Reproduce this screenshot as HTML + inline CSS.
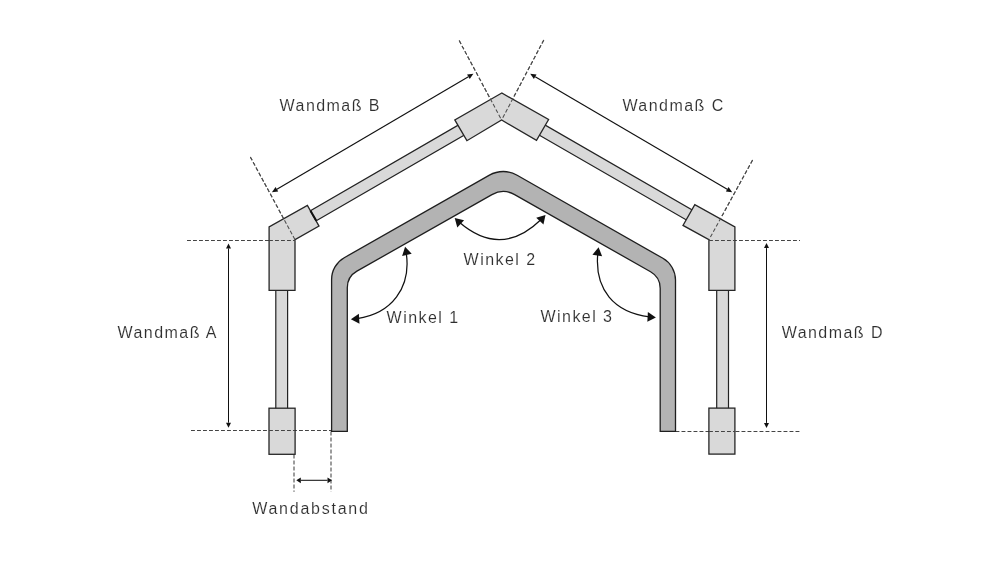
<!DOCTYPE html>
<html><head><meta charset="utf-8"><style>
html,body{margin:0;padding:0;background:#fff;width:1000px;height:562px;overflow:hidden}
svg{display:block}
</style></head><body>
<svg width="1000" height="562" viewBox="0 0 1000 562">
<rect width="1000" height="562" fill="#fff"/>
<line x1="187" y1="240.5" x2="295" y2="240.5" stroke="#444" stroke-width="1.05" stroke-dasharray="3.9 2.1" fill="none" />
<line x1="709" y1="240.5" x2="800" y2="240.5" stroke="#444" stroke-width="1.05" stroke-dasharray="3.9 2.1" fill="none" />
<line x1="191" y1="430.5" x2="331.5" y2="430.5" stroke="#444" stroke-width="1.05" stroke-dasharray="3.9 2.1" fill="none" />
<line x1="675.5" y1="431.4" x2="800.5" y2="431.4" stroke="#444" stroke-width="1.05" stroke-dasharray="3.9 2.1" fill="none" />
<line x1="294.0" y1="454.5" x2="294.0" y2="491.8" stroke="#444" stroke-width="1.05" stroke-dasharray="3.9 2.1" fill="none" />
<line x1="331.0" y1="431.5" x2="331.0" y2="491.8" stroke="#444" stroke-width="1.05" stroke-dasharray="3.9 2.1" fill="none" />
<line x1="250.3" y1="156.9" x2="295" y2="239.7" stroke="#4d4d4d" stroke-width="1.05" stroke-dasharray="3.9 2.1" fill="none" />
<line x1="459.2" y1="40.6" x2="501.6" y2="120" stroke="#4d4d4d" stroke-width="1.05" stroke-dasharray="3.9 2.1" fill="none" />
<line x1="543.8" y1="40.0" x2="501.6" y2="120" stroke="#4d4d4d" stroke-width="1.05" stroke-dasharray="3.9 2.1" fill="none" />
<line x1="752.6" y1="160.0" x2="709" y2="239.7" stroke="#4d4d4d" stroke-width="1.05" stroke-dasharray="3.9 2.1" fill="none" />
<rect x="275.8" y="288" width="11.8" height="122" fill="#d9d9d9" stroke="#222" stroke-width="1.2"/>
<rect x="716.7" y="288" width="11.8" height="122" fill="#d9d9d9" stroke="#222" stroke-width="1.2"/>
<polygon points="314.11,222.02 465.71,134.22 459.89,124.18 308.29,211.98" fill="#d9d9d9" stroke="#222" stroke-width="1.2"/>
<polygon points="537.70,134.22 689.90,222.02 695.70,211.98 543.50,124.18" fill="#d9d9d9" stroke="#222" stroke-width="1.2"/>
<polygon points="269.10,290.30 295.00,290.30 295.00,239.70 319.00,226.10 307.40,205.50 269.10,226.90" fill="#d9d9d9" stroke="#262626" stroke-width="1.3" stroke-linejoin="miter"/>
<polygon points="734.90,290.30 708.90,290.30 708.90,239.70 683.00,225.40 694.80,204.60 734.90,226.90" fill="#d9d9d9" stroke="#262626" stroke-width="1.3" stroke-linejoin="miter"/>
<polygon points="501.80,93.00 454.80,119.90 466.90,140.70 501.60,120.00 536.50,140.30 548.60,119.50" fill="#d9d9d9" stroke="#262626" stroke-width="1.3" stroke-linejoin="miter"/>
<rect x="269.0" y="408.2" width="26.1" height="46.1" fill="#d9d9d9" stroke="#262626" stroke-width="1.3" stroke-linejoin="miter"/>
<rect x="708.9" y="408.1" width="26.0" height="46.0" fill="#d9d9d9" stroke="#262626" stroke-width="1.3" stroke-linejoin="miter"/>
<line x1="316.31" y1="220.72" x2="310.49" y2="210.68" stroke="#111" stroke-width="2.0"/>
<line x1="269" y1="240.5" x2="295" y2="240.5" stroke="#444" stroke-width="1.05" stroke-dasharray="3.9 2.1" fill="none" />
<line x1="709" y1="240.5" x2="735" y2="240.5" stroke="#444" stroke-width="1.05" stroke-dasharray="3.9 2.1" fill="none" />
<line x1="269" y1="430.5" x2="295" y2="430.5" stroke="#444" stroke-width="1.05" stroke-dasharray="3.9 2.1" fill="none" />
<line x1="709" y1="431.4" x2="735" y2="431.4" stroke="#444" stroke-width="1.05" stroke-dasharray="3.9 2.1" fill="none" />
<line x1="250.3" y1="156.9" x2="295" y2="239.7" stroke="#4d4d4d" stroke-width="1.05" stroke-dasharray="3.9 2.1" fill="none" />
<line x1="459.2" y1="40.6" x2="501.6" y2="120" stroke="#4d4d4d" stroke-width="1.05" stroke-dasharray="3.9 2.1" fill="none" />
<line x1="543.8" y1="40.0" x2="501.6" y2="120" stroke="#4d4d4d" stroke-width="1.05" stroke-dasharray="3.9 2.1" fill="none" />
<line x1="752.6" y1="160.0" x2="709" y2="239.7" stroke="#4d4d4d" stroke-width="1.05" stroke-dasharray="3.9 2.1" fill="none" />
<path d="M331.60,431.30 L331.60,279.45 A25,25 0 0 1 344.25,257.71 L489.44,175.18 A28,28 0 0 1 517.15,175.20 L662.88,258.31 A25,25 0 0 1 675.50,280.02 L675.50,431.30 L660.20,431.30 L660.20,288.27 A19,19 0 0 0 650.57,271.74 L514.64,194.63 A23,23 0 0 0 491.95,194.63 L356.93,271.14 A19,19 0 0 0 347.30,287.67 L347.30,431.30 Z" fill="#b3b3b3" stroke="#1e1e1e" stroke-width="1.3" stroke-linejoin="miter"/>
<polygon points="473.40,73.80 469.72,78.98 467.08,74.50" fill="#111"/>
<polygon points="271.90,192.30 275.58,187.12 278.22,191.60" fill="#111"/>
<line x1="276.90" y1="189.36" x2="468.40" y2="76.74" stroke="#111" stroke-width="1.15"/>
<polygon points="732.20,192.30 725.88,191.61 728.51,187.12" fill="#111"/>
<polygon points="530.20,73.80 536.52,74.49 533.89,78.98" fill="#111"/>
<line x1="535.20" y1="76.73" x2="727.20" y2="189.37" stroke="#111" stroke-width="1.15"/>
<polygon points="228.50,427.70 226.00,422.70 231.00,422.70" fill="#111"/>
<polygon points="228.50,243.40 231.00,248.40 226.00,248.40" fill="#111"/>
<line x1="228.50" y1="248.40" x2="228.50" y2="422.70" stroke="#111" stroke-width="1.05"/>
<polygon points="766.50,427.90 764.00,422.90 769.00,422.90" fill="#111"/>
<polygon points="766.50,243.10 769.00,248.10 764.00,248.10" fill="#111"/>
<line x1="766.50" y1="248.10" x2="766.50" y2="422.90" stroke="#111" stroke-width="1.05"/>
<polygon points="332.00,480.30 327.50,483.20 327.50,477.40" fill="#111"/>
<polygon points="296.30,480.30 300.80,477.40 300.80,483.20" fill="#111"/>
<line x1="300.80" y1="480.30" x2="327.50" y2="480.30" stroke="#111" stroke-width="1.05"/>
<polygon points="350.90,319.30 358.86,313.86 359.51,323.64" fill="#111"/>
<polygon points="405.10,246.80 411.70,253.83 402.13,255.97" fill="#111"/>
<path d="M357.14,318.65 C391.73,313.71 411.32,287.67 406.25,252.99" fill="none" stroke="#111" stroke-width="1.25"/>
<polygon points="655.90,317.40 647.33,321.80 647.90,312.02" fill="#111"/>
<polygon points="598.60,247.30 602.12,256.27 592.44,254.71" fill="#111"/>
<path d="M649.50,316.82 C614.05,312.44 594.47,289.55 597.78,253.73" fill="none" stroke="#111" stroke-width="1.25"/>
<polygon points="454.70,218.10 464.08,220.32 457.29,227.38" fill="#111"/>
<polygon points="545.50,215.00 543.45,224.42 536.26,217.76" fill="#111"/>
<path d="M459.35,222.34 C487.23,246.36 514.72,245.15 541.11,219.50" fill="none" stroke="#111" stroke-width="1.25"/>
<g style="will-change:transform">
<text x="279.6" y="110.9" font-family="Liberation Sans, sans-serif" font-size="16" fill="#2e2e2e" stroke="#fff" stroke-width="0.12" letter-spacing="1.45">Wandmaß B</text>
<text x="622.4" y="110.7" font-family="Liberation Sans, sans-serif" font-size="16" fill="#2e2e2e" stroke="#fff" stroke-width="0.12" letter-spacing="1.45">Wandmaß C</text>
<text x="117.5" y="338.4" font-family="Liberation Sans, sans-serif" font-size="16" fill="#2e2e2e" stroke="#fff" stroke-width="0.12" letter-spacing="1.45">Wandmaß A</text>
<text x="781.7" y="338.4" font-family="Liberation Sans, sans-serif" font-size="16" fill="#2e2e2e" stroke="#fff" stroke-width="0.12" letter-spacing="1.45">Wandmaß D</text>
<text x="463.6" y="264.6" font-family="Liberation Sans, sans-serif" font-size="16" fill="#2e2e2e" stroke="#fff" stroke-width="0.12" letter-spacing="1.45">Winkel 2</text>
<text x="386.6" y="322.7" font-family="Liberation Sans, sans-serif" font-size="16" fill="#2e2e2e" stroke="#fff" stroke-width="0.12" letter-spacing="1.45">Winkel 1</text>
<text x="540.5" y="322.4" font-family="Liberation Sans, sans-serif" font-size="16" fill="#2e2e2e" stroke="#fff" stroke-width="0.12" letter-spacing="1.45">Winkel 3</text>
<text x="252.2" y="513.8" font-family="Liberation Sans, sans-serif" font-size="16" fill="#2e2e2e" stroke="#fff" stroke-width="0.12" letter-spacing="1.45" style="letter-spacing:1.75px">Wandabstand</text>
</g>
</svg>
</body></html>
